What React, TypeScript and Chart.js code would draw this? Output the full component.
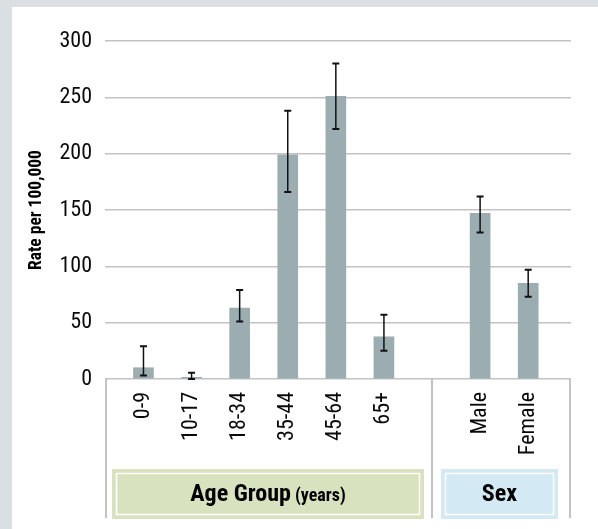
import React, { useEffect, useRef } from "react";
import { Chart, registerables } from "chart.js";

Chart.register(...registerables);

// ---- data ----
const categories = ["0-9", "10-17", "18-34", "35-44", "45-64", "65+", "Male", "Female"];
const positions = [0, 1, 2, 3, 4, 5, 7, 8];
const rates = [10, 1.5, 63, 199, 251, 37.5, 147, 85];
const lowerCI = [3, 0, 51, 166, 222, 25, 130, 73];
const upperCI = [29, 5.5, 79, 238, 280, 57, 162, 97];
const separatorPosition = 6;
const yMin = 0;
const yMax = 300;
const yStep = 50;
const yTitle = "Rate per 100,000";
const groupMain = ["Age Group", "Sex"];
const groupSub = [" (years)", ""];

const NARROW = "'Roboto Condensed', 'DejaVu Sans Condensed', sans-serif";
const BAR = "#9badb0";
const GRID = "#c3c3c3";
const PAGE = "#d9dfe3";

const decorPlugin = {
  id: "decor",
  beforeDraw(chart: any) {
    const { ctx, width, height } = chart;
    ctx.save();
    ctx.fillStyle = PAGE;
    ctx.fillRect(0, 0, width, height);
    ctx.fillStyle = "#ffffff";
    ctx.fillRect(12, 7, width - 12, height - 7);
    ctx.restore();
  },
  afterDatasetsDraw(chart: any) {
    const { ctx } = chart;
    const xs = chart.scales.x;
    const ys = chart.scales.y;
    ctx.save();
    ctx.strokeStyle = "#111111";
    for (let i = 0; i < positions.length; i++) {
      const x = xs.getPixelForValue(positions[i]);
      const yl = ys.getPixelForValue(lowerCI[i]);
      const yh = ys.getPixelForValue(upperCI[i]);
      ctx.lineWidth = 1.5;
      ctx.beginPath();
      ctx.moveTo(x, yl);
      ctx.lineTo(x, yh);
      ctx.stroke();
      ctx.lineWidth = 2;
      ctx.beginPath();
      ctx.moveTo(x - 3.5, yl);
      ctx.lineTo(x + 3.5, yl);
      ctx.moveTo(x - 3.5, yh);
      ctx.lineTo(x + 3.5, yh);
      ctx.stroke();
    }
    ctx.restore();
  },
  afterDraw(chart: any) {
    const { ctx, chartArea, height } = chart;
    const xs = chart.scales.x;
    const sep = xs.getPixelForValue(separatorPosition);
    const left = chartArea.left;
    const right = chartArea.right;
    const top = chartArea.bottom;
    const lineBottom = height - 11;
    ctx.save();
    ctx.strokeStyle = GRID;
    ctx.lineWidth = 2;
    ctx.beginPath();
    [left + 1, sep, right - 1].forEach((x) => {
      ctx.moveTo(x, top);
      ctx.lineTo(x, lineBottom);
    });
    ctx.stroke();

    const boxTop = height - 60;
    const boxBottom = height - 10;
    const boxes = [
      { x0: left + 7, x1: sep - 8, fill: "#d8e2bf" },
      { x0: sep + 9, x1: right - 13, fill: "#d3e9f4" },
    ];
    boxes.forEach((b, i) => {
      ctx.fillStyle = b.fill;
      ctx.fillRect(b.x0, boxTop, b.x1 - b.x0, boxBottom - boxTop);
      ctx.strokeStyle = "#ffffff";
      ctx.lineWidth = 1.5;
      ctx.strokeRect(b.x0 + 4.5, boxTop + 4.5, b.x1 - b.x0 - 9, boxBottom - boxTop - 9);
      const cy = (boxTop + boxBottom) / 2 + 1;
      ctx.fillStyle = "#000000";
      ctx.textBaseline = "middle";
      ctx.font = `bold 24px ${NARROW}`;
      const w1 = ctx.measureText(groupMain[i]).width;
      ctx.font = `bold 18px ${NARROW}`;
      const w2 = ctx.measureText(groupSub[i]).width;
      const cx = (b.x0 + b.x1) / 2;
      const sx = cx - (w1 + w2) / 2;
      ctx.textAlign = "left";
      ctx.font = `bold 24px ${NARROW}`;
      ctx.fillText(groupMain[i], sx, cy);
      ctx.font = `bold 18px ${NARROW}`;
      ctx.fillText(groupSub[i], sx + w1, cy + 1);
    });
    ctx.restore();
  },
};

export default function App() {
  const ref = useRef<HTMLCanvasElement | null>(null);
  useEffect(() => {
    if (!ref.current) return;
    const chart = new Chart(ref.current, {
      type: "bar",
      data: {
        datasets: [
          {
            data: positions.map((p, i) => ({ x: p, y: rates[i] })),
            backgroundColor: BAR,
            borderWidth: 0,
            barThickness: 20,
          },
        ],
      },
      options: {
        animation: false,
        responsive: false,
        devicePixelRatio: 1,
        layout: { padding: { left: 0, top: 41, right: 27, bottom: 0 } },
        plugins: { legend: { display: false }, tooltip: { enabled: false }, title: { display: false } },
        scales: {
          x: {
            type: "linear",
            offset: false,
            min: -0.8,
            max: 8.89,
            grid: { display: false, drawTicks: false, offset: false },
            border: { display: false },
            afterBuildTicks: (scale: any) => {
              scale.ticks = positions.map((v) => ({ value: v }));
            },
            afterFit: (scale: any) => {
              scale.height = 150;
            },
            ticks: {
              autoSkip: false,
              minRotation: 90,
              maxRotation: 90,
              padding: 13,
              color: "#0a0a0a",
              font: { family: NARROW, size: 22 },
              callback: (_v: any, index: number) => categories[index],
            },
          },
          y: {
            min: yMin,
            max: yMax,
            grid: { color: GRID, lineWidth: 1.5, drawTicks: false },
            border: { display: false },
            afterFit: (scale: any) => {
              scale.width = 105;
            },
            ticks: {
              stepSize: yStep,
              padding: 13,
              color: "#0a0a0a",
              font: { family: NARROW, size: 22 },
            },
            title: {
              display: true,
              text: yTitle,
              color: "#000000",
              font: { family: NARROW, size: 17.5, weight: "bold" },
              padding: { top: 26, bottom: 0 },
            },
          },
        },
      },
      plugins: [decorPlugin],
    } as any);
    return () => chart.destroy();
  }, []);
  return (
    <div style={{ position: "fixed", left: 0, top: 0, width: 598, height: 529 }}>
      <canvas ref={ref} width={598} height={529} style={{ display: "block" }} />
    </div>
  );
}
